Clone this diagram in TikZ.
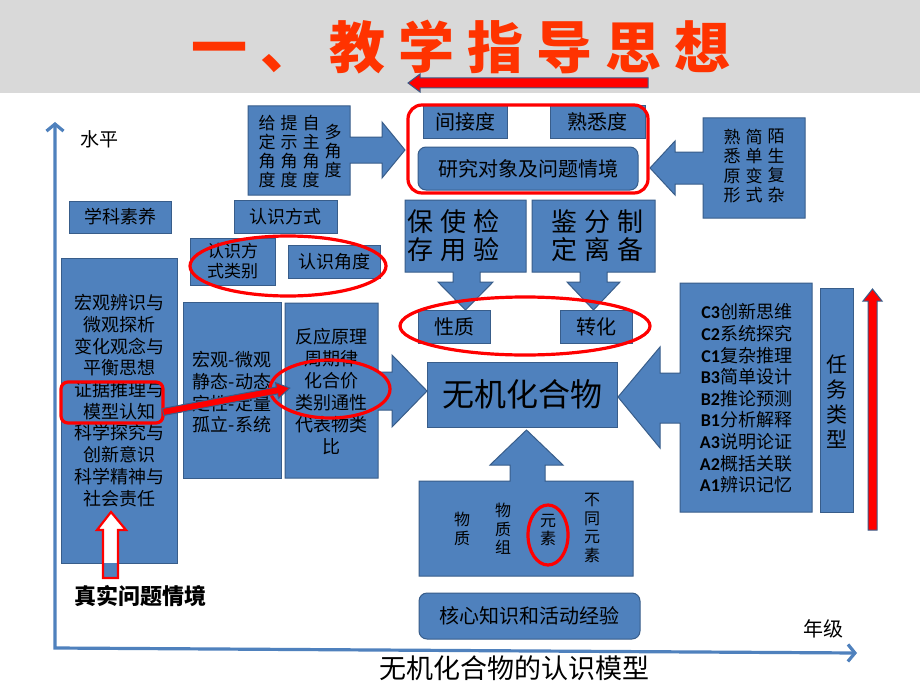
\documentclass[tikz,border=0pt]{standalone}
\usepackage{fontspec}
\newfontfamily\cjk{Noto Sans CJK SC}
\newfontfamily\lat{Carlito}
\usetikzlibrary{arrows.meta,shapes.geometric}
\definecolor{boxc}{RGB}{79,129,189}
\definecolor{bordc}{RGB}{56,93,138}
\definecolor{headc}{RGB}{217,217,217}
\definecolor{titc}{RGB}{255,51,0}
\definecolor{redc}{RGB}{255,0,0}
\newcommand{\fs}[2]{\cjk\fontsize{#1}{#2}\selectfont}
\begin{document}
\begin{tikzpicture}[x=1pt,y=-1pt, font=\cjk,
 box/.style={draw=bordc, fill=boxc, line width=1pt, inner sep=0pt},
 rbox/.style={box, rounded corners=8pt},
 callout/.style={draw=bordc, fill=boxc, line width=1pt, line join=miter},
 redring/.style={draw=redc, line width=3.2pt, fill=none},
 txt/.style={inner sep=0pt, align=center, text=black},
 arrowred/.style={fill=redc, draw=bordc, line width=1pt},
 axisline/.style={draw=boxc, line width=3.2pt},
]
\useasboundingbox (0,0) rectangle (920,690);
\fill[white] (0,0) rectangle (920,690);
% header
\fill[headc] (0,0) rectangle (920,93);
\node[txt, font={\fs{56}{56}\bfseries}, text=titc] (title) at (461,47) {一\hspace{13pt}、\hspace{13pt}教\hspace{13pt}学\hspace{13pt}指\hspace{13pt}导\hspace{13pt}思\hspace{13pt}想};
\path[arrowred] (648,78) -- (420,78) -- (420,74) -- (408,83) -- (420,92) -- (420,88) -- (648,88) -- cycle;

% axes
\coordinate (O) at (55,648);
\coordinate (Ytop) at (55,122);
\coordinate (Xend) at (857,653);
\draw[axisline, {Straight Barb[length=7pt,width=17pt]}-{Straight Barb[length=7pt,width=17pt]}] (Ytop) -- (O) -- (Xend);
\node[txt, font=\fs{19}{19}] (shuiping) at (99,139) {水平};
\node[txt, font=\fs{20}{20}] (nianji) at (823,629) {年级};
\node[txt, font=\fs{27}{27}] (caption) at (514,668) {无机化合物的认识模型};

% upper-left callout
\path[callout] (248,106) -- (350,106) -- (350,137) -- (382,137) -- (382,122) -- (405,150) -- (382,178) -- (382,163) -- (350,163) -- (350,195) -- (248,195) -- cycle;
\node[txt, font=\fs{17}{19}] (c1) at (267,152) {给\\定\\角\\度};
\node[txt, font=\fs{17}{19}] (c2) at (289,152) {提\\示\\角\\度};
\node[txt, font=\fs{17}{19}] (c3) at (311,152) {自\\主\\角\\度};
\node[txt, font=\fs{17}{19}] (c4) at (333,151) {多\\角\\度};

% top center boxes
\node[box, minimum width=84, minimum height=32, font=\fs{20}{20}] (jjd) at (465,122) {间接度};
\node[box, minimum width=95, minimum height=32, font=\fs{20}{20}] (sxd) at (597.5,122) {熟悉度};
\node[rbox, minimum width=220, minimum height=43, font=\fs{20}{20}] (yjdx) at (528,168.5) {研究对象及问题情境};

% right top callout
\path[callout] (805,118) -- (805,218) -- (703,218) -- (703,184) -- (675,184) -- (675,195) -- (650,168) -- (675,141) -- (675,152) -- (703,152) -- (703,118) -- cycle;
\node[txt, font=\fs{17}{19.5}] (d1) at (732,166) {熟\\悉\\原\\形};
\node[txt, font=\fs{17}{19.5}] (d2) at (754,166) {简\\单\\变\\式};
\node[txt, font=\fs{17}{19.5}] (d3) at (776,166) {陌\\生\\复\\杂};

% second row boxes
\node[box, minimum width=102, minimum height=32, font=\fs{18}{18}] (xksy) at (120,217) {学科素养};
\node[box, minimum width=103, minimum height=33, font=\fs{18}{18}] (rsfs) at (285.5,216.5) {认识方式};
\node[box, minimum width=85, minimum height=47, font=\fs{17}{20}, align=center] (rsfslb) at (232.5,261.5) {认识方\\式类别};
\node[box, minimum width=92, minimum height=33, font=\fs{18}{18}] (rsjd) at (334,261.5) {认识角度};

% two down callouts
\path[callout] (405,200) -- (526,200) -- (526,272) -- (480,272) -- (480,282) -- (493,282) -- (465.5,310) -- (438,282) -- (453,282) -- (453,272) -- (405,272) -- cycle;
\node[txt, font=\fs{26}{28}] (bsj) at (453.5,236) {保\hspace{7pt}使\hspace{7pt}检\\存\hspace{7pt}用\hspace{7pt}验};
\path[callout] (532,200) -- (655,200) -- (655,272) -- (607,272) -- (607,282) -- (620,282) -- (593.5,310) -- (567,282) -- (580,282) -- (580,272) -- (532,272) -- cycle;
\node[txt, font=\fs{26}{28}] (jfz) at (597.5,236) {鉴\hspace{7pt}分\hspace{7pt}制\\定\hspace{7pt}离\hspace{7pt}备};

% xingzhi / zhuanhua
\node[box, minimum width=72, minimum height=33, font=\fs{20}{20}] (xz) at (454,326.5) {性质};
\node[box, minimum width=72, minimum height=33, font=\fs{20}{20}] (zh) at (596,326.5) {转化};

% central box
\node[box, minimum width=190, minimum height=65, font=\fs{32}{32}] (center) at (522,394.5) {无机化合物};

% left big box
\node[box, minimum width=116, minimum height=305] (sy) at (119,410.5) {};
\node[txt, font=\fs{18}{21.7}] (sytext) at (119,400.5) {宏观辨识与\\微观探析\\变化观念与\\平衡思想\\证据推理与\\模型认知\\科学探究与\\创新意识\\科学精神与\\社会责任};

% hongguan box
\node[box, minimum width=98, minimum height=176] (hg) at (232,390) {};
\node[txt, font=\fs{18}{21.7}] (hgtext) at (232,392.5) {宏观-微观\\静态-动态\\定性-定量\\孤立-系统};

% fanying callout
\path[callout] (285,303) -- (378,303) -- (378,372) -- (392,372) -- (392,355) -- (427,391) -- (392,427) -- (392,410) -- (378,410) -- (378,478) -- (285,478) -- cycle;
\node[txt, font=\fs{18}{22}] (fytext) at (331.5,392) {反应原理\\周期律\\化合价\\类别通性\\代表物类\\比};

% right big callout
\path[callout] (812,283) -- (812,512) -- (680,512) -- (680,423) -- (660,423) -- (660,448) -- (618,397) -- (660,347) -- (660,373) -- (680,373) -- (680,283) -- cycle;
\node[txt, font=\fs{18}{21.6}, align=right] (tasks) at (746,398.5) {{\lat\bfseries C3}创新思维\\{\lat\bfseries C2}系统探究\\{\lat\bfseries C1}复杂推理\\{\lat\bfseries B3}简单设计\\{\lat\bfseries B2}推论预测\\{\lat\bfseries B1}分析解释\\{\lat\bfseries A3}说明论证\\{\lat\bfseries A2}概括关联\\{\lat\bfseries A1}辨识记忆};
\node[box, minimum width=33, minimum height=224] (rwlx) at (836.5,400) {};
\node[txt, font=\fs{21}{25}] (rwlxtext) at (836.5,402) {任\\务\\类\\型};
\path[arrowred] (868,530) -- (868,301) -- (863,301) -- (872.5,289) -- (882,301) -- (877,301) -- (877,530) -- cycle;

% bottom callout
\path[callout] (419,481) -- (510,481) -- (510,465) -- (490,465) -- (526.5,430) -- (563,465) -- (545,465) -- (545,481) -- (633,481) -- (633,576) -- (419,576) -- cycle;
\node[txt, font=\fs{16}{18.5}] (b1) at (462,529) {物\\质};
\node[txt, font=\fs{16}{18.5}] (b2) at (503,529) {物\\质\\组};
\node[txt, font=\fs{16}{18.5}] (b3) at (548,530) {元\\素};
\node[txt, font=\fs{16}{18.5}] (b4) at (592,528) {不\\同\\元\\素};
\node[rbox, minimum width=221, minimum height=46, font=\fs{20}{20}] (hxzs) at (529.5,616) {核心知识和活动经验};

% hollow arrow and label
\path[fill=white] (103,578) -- (103,530) -- (97,530) -- (111,512) -- (126,530) -- (118,530) -- (118,578) -- cycle;
\fill[boxc] (103,563) rectangle (118,578);
\draw[draw=redc, line width=2.2pt, line join=miter] (103,578) -- (103,530) -- (97,530) -- (111,512) -- (126,530) -- (118,530) -- (118,578) -- cycle;
\node[txt, font={\fs{22}{22}\bfseries}] (zswt) at (140,596) {真实问题情境};

% red rings
\node[redring, rounded corners=14pt, minimum width=240, minimum height=88] (ring1) at (528,149) {};
\node[redring, ellipse, minimum width=196, minimum height=60] (ring2) at (288,266) {};
\node[redring, ellipse, minimum width=250, minimum height=58] (ring3) at (525,326) {};
\node[redring, ellipse, minimum width=120, minimum height=58] (ring4) at (330,389) {};
\node[redring, ellipse, minimum width=40, minimum height=60] (ring5) at (548,535) {};
\node[redring, rounded corners=7pt, minimum width=102, minimum height=41] (ring6) at (112,402.5) {};

% red diagonal arrow
\path[arrowred, shift={(163,412)}, rotate=10.7] (0,-3.5) -- (116,-3.5) -- (116,-8) -- (129,0) -- (116,8) -- (116,3.5) -- (0,3.5) -- cycle;
\end{tikzpicture}
\end{document}
